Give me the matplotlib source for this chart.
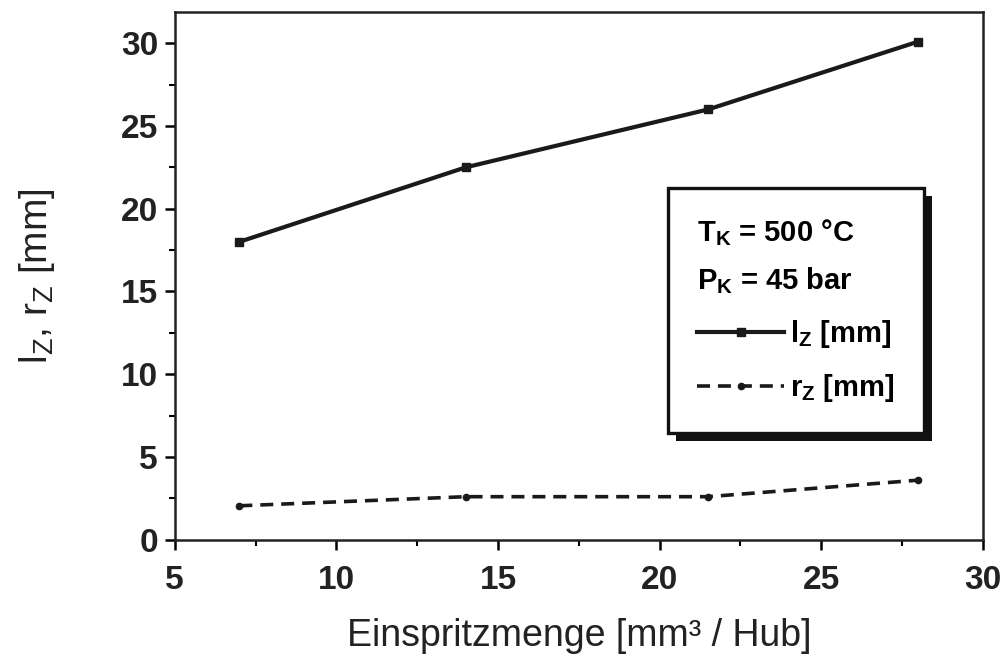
import matplotlib
matplotlib.use("Agg")
import matplotlib.pyplot as plt
from matplotlib.ticker import MultipleLocator
from matplotlib.patches import Rectangle

plt.rcParams['font.family'] = ['Liberation Sans', 'DejaVu Sans']
plt.rcParams['mathtext.fontset'] = 'custom'
plt.rcParams['mathtext.rm'] = 'Liberation Sans'
plt.rcParams['mathtext.bf'] = 'Liberation Sans:bold'

einspritz = [7, 14, 21.5, 28]
l_z = [18.0, 22.5, 26.0, 30.1]
r_z = [2.05, 2.6, 2.6, 3.6]

fig = plt.figure(figsize=(10.04, 6.55), dpi=100)
ax = fig.add_axes([0.174, 0.176, 0.805, 0.806])

ax.plot(einspritz, l_z, '-', color='#1a1a1a', lw=3.0, marker='s', ms=5.5, label=r'l$_\mathbf{Z}$ [mm]')
ax.plot(einspritz, r_z, '--', color='#1a1a1a', lw=2.6, marker='o', ms=4.5, dashes=(3.6, 2.2), label=r'r$_\mathbf{Z}$ [mm]')

ax.set_xlim(5, 30)
ax.set_ylim(0, 31.9)
ax.xaxis.set_major_locator(MultipleLocator(5))
ax.xaxis.set_minor_locator(MultipleLocator(2.5))
ax.yaxis.set_major_locator(MultipleLocator(5))
ax.yaxis.set_minor_locator(MultipleLocator(2.5))
ax.tick_params(which='major', direction='out', length=7, width=1.8, labelsize=24)
ax.tick_params(axis='x', pad=11)
ax.tick_params(axis='y', pad=5)
ax.tick_params(which='minor', direction='out', length=4, width=1.5)
for lab in ax.get_xticklabels() + ax.get_yticklabels():
    lab.set_fontweight('bold')
    lab.set_color('#222222')
for s in ax.spines.values():
    s.set_linewidth(1.8)
    s.set_color('#222222')

ax.set_xlabel('Einspritzmenge [mm³ / Hub]', fontsize=27, color='#222222', labelpad=16)
ax.set_ylabel(r'l$_\mathregular{Z}$, r$_\mathregular{Z}$ [mm]', fontsize=28, color='#222222', labelpad=46)

leg = ax.legend(loc='upper left', bbox_to_anchor=(0.61, 0.667),
                prop={'size': 21, 'weight': 'bold'},
                title='T$_\\mathbf{K}$ = 500 °C\nP$_\\mathbf{K}$ = 45 bar',
                title_fontproperties={'size': 21, 'weight': 'bold'},
                alignment='left', frameon=True, fancybox=False, framealpha=1,
                facecolor='white', edgecolor='#111111', handlelength=3.0,
                handletextpad=0.2, borderpad=1.0, labelspacing=0.75, borderaxespad=0)
leg.get_title().set_linespacing(1.75)
leg.get_frame().set_linewidth(2.4)
leg.set_zorder(6)

fig.canvas.draw()
bb = leg.get_window_extent()
shadow = Rectangle((bb.x0 + 8, bb.y0 - 8), bb.width, bb.height, transform=None,
                   facecolor='#111111', edgecolor='none', zorder=5, clip_on=False)
ax.add_artist(shadow)

fig.savefig('out.png', dpi=100)
